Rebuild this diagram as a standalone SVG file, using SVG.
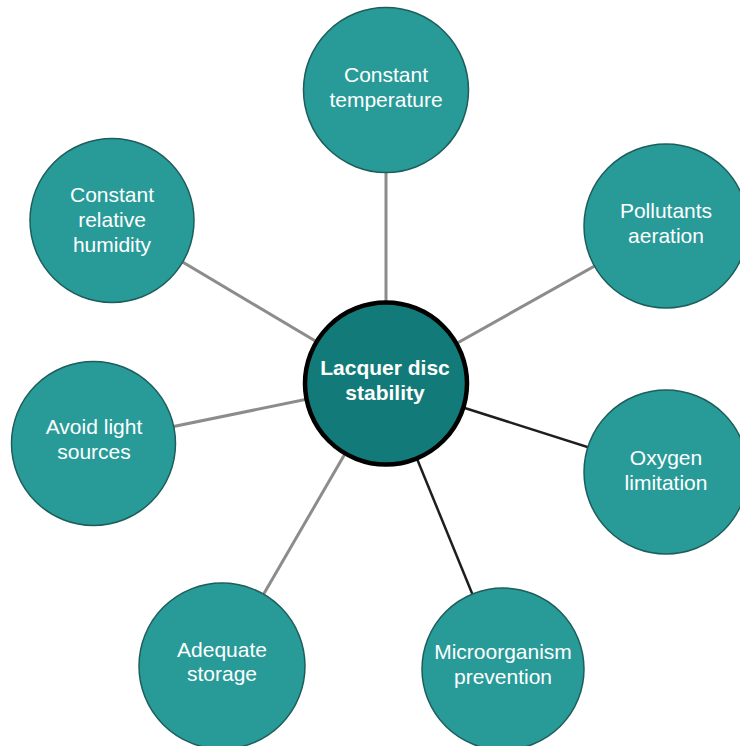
<svg xmlns="http://www.w3.org/2000/svg" width="740" height="746" viewBox="0 0 740 746">
<style>
.bg{fill:#ffffff}
.gray{stroke:#8c8c8c;stroke-width:3;fill:none}
.dark{stroke:#1e1e1e;stroke-width:2.5;fill:none}
.outer{fill:#289b98;stroke:#1d5e5c;stroke-width:1.5}
.center{fill:#127a79;stroke:#000000;stroke-width:4.5}
.t{font-family:"Liberation Sans",Arial,sans-serif;font-size:21px;fill:#ffffff;text-anchor:middle}
.tb{font-family:"Liberation Sans",Arial,sans-serif;font-size:21px;font-weight:bold;fill:#ffffff;text-anchor:middle}
</style>
<rect class="bg" x="0" y="0" width="740" height="746"/>
<g id="connectors">
<line class="gray" x1="386" y1="383" x2="386" y2="90"/>
<line class="gray" x1="386" y1="383" x2="666" y2="226"/>
<line class="dark" x1="386" y1="383" x2="666" y2="472"/>
<line class="dark" x1="386" y1="383" x2="503" y2="669"/>
<line class="gray" x1="386" y1="383" x2="222" y2="666"/>
<line class="gray" x1="386" y1="383" x2="93" y2="443"/>
<line class="gray" x1="386" y1="383" x2="112" y2="220"/>
</g>
<g id="node-temperature">
<circle class="outer" cx="386" cy="90" r="82.5"/>
<text class="t" x="386" y="82">Constant</text>
<text class="t" x="386" y="107">temperature</text>
</g>
<g id="node-pollutants">
<circle class="outer" cx="666" cy="226" r="82"/>
<text class="t" x="666" y="218">Pollutants</text>
<text class="t" x="666" y="243">aeration</text>
</g>
<g id="node-oxygen">
<circle class="outer" cx="666" cy="472" r="82"/>
<text class="t" x="666" y="465">Oxygen</text>
<text class="t" x="666" y="490">limitation</text>
</g>
<g id="node-microorganism">
<circle class="outer" cx="503" cy="669" r="81"/>
<text class="t" x="503" y="659">Microorganism</text>
<text class="t" x="503" y="684">prevention</text>
</g>
<g id="node-storage">
<circle class="outer" cx="222" cy="666" r="83"/>
<text class="t" x="222" y="657">Adequate</text>
<text class="t" x="222" y="681">storage</text>
</g>
<g id="node-light">
<circle class="outer" cx="93.5" cy="443.5" r="82"/>
<text class="t" x="94" y="434">Avoid light</text>
<text class="t" x="94" y="459">sources</text>
</g>
<g id="node-humidity">
<circle class="outer" cx="112" cy="220.5" r="82"/>
<text class="t" x="112" y="202">Constant</text>
<text class="t" x="112" y="227">relative</text>
<text class="t" x="112" y="252">humidity</text>
</g>
<g id="node-center">
<circle class="center" cx="386" cy="383.5" r="81"/>
<text class="tb" x="385" y="375">Lacquer disc</text>
<text class="tb" x="385" y="400">stability</text>
</g>
</svg>
